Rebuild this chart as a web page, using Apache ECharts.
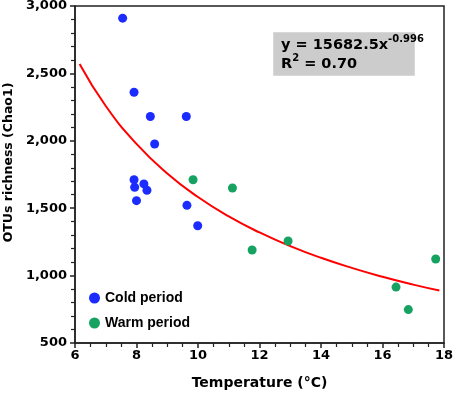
<!DOCTYPE html>
<html>
<head>
<meta charset="utf-8">
<script src="https://cdn.jsdelivr.net/npm/echarts@6/dist/echarts.min.js"></script>
<style>
  html, body { margin: 0; padding: 0; background: #fff; }
  #chart { width: 454px; height: 393px; }
</style>
</head>
<body>
<div id="chart"></div>
<script>
// values
const coldTemp = [7.55, 7.92, 8.45, 9.62, 8.59, 7.92, 7.94, 8.24, 8.34, 8.0, 9.64, 9.99];
const coldRich = [2910, 2360, 2180, 2180, 1976, 1711, 1655, 1680, 1633, 1556, 1521, 1370];

const warmTemp = [9.84, 11.12, 11.76, 12.93, 16.44, 16.84, 17.73];
const warmRich = [1711, 1650, 1190, 1257, 915, 748, 1123];

// fitted power curve, as drawn
const fitTemp = [6.15, 7, 8, 9, 10, 11, 12, 13, 14, 15, 16, 17, 17.85];
const fitRich = [2569, 2258, 1977, 1758, 1583, 1439, 1320, 1219, 1132, 1057, 991, 933, 889];

const boldFont = "DejaVu Sans";
const black = "#000";

function pairs(xs, ys) {
  return xs.map((x, i) => [x, ys[i]]);
}

const chart = echarts.init(document.getElementById("chart"), null, { renderer: "canvas" });

chart.setOption({
  animation: false,
  backgroundColor: "#fff",
  grid: {
    left: 75, right: 10, top: 6, bottom: 50,
    outerBoundsMode: "none", containLabel: false,
    show: true, borderColor: "#222", borderWidth: 1.5, backgroundColor: "transparent",
  },
  legend: {
    orient: "vertical",
    left: 84,
    top: 286,
    itemWidth: 11,
    itemHeight: 11,
    itemGap: 11,
    icon: "circle",
    textStyle: { fontFamily: "Liberation Sans", fontWeight: "bold", fontSize: 14, color: black },
    data: ["Cold period", "Warm period"],
  },
  xAxis: {
    type: "value",
    min: 6,
    max: 18,
    interval: 2,
    name: "Temperature (°C)",
    nameLocation: "middle",
    nameGap: 33,
    nameTextStyle: { fontFamily: boldFont, fontWeight: "bold", fontSize: 14, color: black },
    axisLine: { onZero: false, lineStyle: { color: "#222", width: 1.5 } },
    axisTick: { show: true, inside: false, length: 5, lineStyle: { color: "#222", width: 1.5 } },
    minorTick: { show: true, splitNumber: 4, length: 4, lineStyle: { color: "#222", width: 1.2 } },
    axisLabel: { fontFamily: boldFont, fontWeight: "bold", fontSize: 13, color: black, margin: 6 },
    splitLine: { show: false },
  },
  yAxis: {
    type: "value",
    min: 500,
    max: 3000,
    interval: 500,
    name: "OTUs richness (Chao1)",
    nameLocation: "middle",
    nameGap: 58,
    nameTextStyle: { fontFamily: boldFont, fontWeight: "bold", fontSize: 12.5, color: black, padding: [0, 0, 0, 24] },
    axisLine: { onZero: false, lineStyle: { color: "#222", width: 1.5 } },
    axisTick: { show: true, inside: false, length: 5, lineStyle: { color: "#222", width: 1.5 } },
    minorTick: { show: true, splitNumber: 5, length: 4, lineStyle: { color: "#222", width: 1.2 } },
    axisLabel: {
      fontFamily: boldFont, fontWeight: "bold", fontSize: 13, color: black, margin: 8,
      formatter: v => v.toLocaleString("en-US"),
    },
    splitLine: { show: false },
  },
  graphic: [
    {
      type: "rect",
      left: 273,
      top: 32,
      shape: { width: 141, height: 43 },
      style: { fill: "#cccccc", stroke: "#d8d8d8", lineWidth: 1 },
      z: 10,
    },
    {
      type: "text",
      left: 281,
      top: 34,
      z: 11,
      style: {
        text: "{b|y = 15682.5x}{s|-0.996}\n{b|R}{s|2}{b| = 0.70}",
        rich: {
          b: { fontFamily: boldFont, fontWeight: "bold", fontSize: 14.5, color: black, lineHeight: 19, verticalAlign: "bottom" },
          s: { fontFamily: boldFont, fontWeight: "bold", fontSize: 10, color: black, lineHeight: 19, verticalAlign: "top" },
        },
      },
    },
  ],
  series: [
    {
      name: "Fit",
      type: "line",
      data: pairs(fitTemp, fitRich),
      smooth: true,
      showSymbol: false,
      lineStyle: { color: "#ff0000", width: 2 },
      z: 2,
    },
    {
      name: "Cold period",
      type: "scatter",
      data: pairs(coldTemp, coldRich),
      symbolSize: 9,
      itemStyle: { color: "#1c2cff", opacity: 1 },
      z: 3,
    },
    {
      name: "Warm period",
      type: "scatter",
      data: pairs(warmTemp, warmRich),
      symbolSize: 9,
      itemStyle: { color: "#16a362", opacity: 1 },
      z: 3,
    },
  ],
});
</script>
</body>
</html>
